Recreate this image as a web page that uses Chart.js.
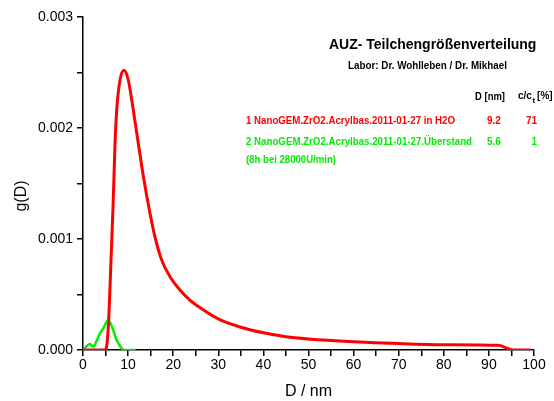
<!DOCTYPE html>
<html>
<head>
<meta charset="utf-8">
<script src="https://cdn.jsdelivr.net/npm/chart.js@4/dist/chart.umd.min.js"></script>
<style>
  html, body { margin: 0; padding: 0; background: #fff; }
  canvas { display: block; }
</style>
</head>
<body>
<canvas id="verteilung" width="554" height="401"></canvas>
<script>
// Messwerte: Durchmesser D [nm] und Verteilungsdichte g(D)
const probe1D = [0, 4.9, 5.3, 5.7, 6.2, 6.65, 6.87, 7.1, 7.47, 8.2, 9.1, 10.05, 11.16, 12.27, 13.4, 14.86,
                 15.96, 17.45, 19.3, 21.5, 23.7, 26, 30, 35, 40, 45, 50, 60, 70, 80, 92.1, 95.4, 99.4];
const probe1G = [0, 0, 0.00005, 0.00027, 0.0008, 0.00128, 0.00156, 0.00186, 0.00216, 0.00243, 0.00252,
                 0.00243, 0.00216, 0.00186, 0.00156, 0.00123, 0.00102, 0.00081, 0.00066, 0.00054,
                 0.00045, 0.00038, 0.00028, 0.000205, 0.000155, 0.00012, 0.0001, 0.000075, 0.000058,
                 0.000048, 0.000042, 0, 0];

const probe2D = [0, 1.55, 2.3, 3.0, 3.77, 4.5, 5.6, 6.7, 7.47, 8.58, 9.3, 11.7];
const probe2G = [0, 0.000054, 0.00003, 0.00008, 0.00015, 0.000195, 0.00027, 0.00018, 0.00009, 0.000015, 0, 0];

const xTicks = [0, 10, 20, 30, 40, 50, 60, 70, 80, 90, 100];
const yTicks = ['0.000', '0.001', '0.002', '0.003'];

// Legende
const probenNamen = [
  '1 NanoGEM.ZrO2.Acrylbas.2011-01-27 in H2O',
  '2 NanoGEM.ZrO2.Acrylbas.2011-01-27.\u00dcberstand'
];
const probenD = ['9.2', '5.6'];
const probenAnteil = ['71', '1'];
const probenFarben = ['#ff0000', '#00ee00'];

const schrift = "'Liberation Sans', Arial, sans-serif";

function punkte(xs, ys) {
  return xs.map((x, i) => ({ x: x, y: ys[i] }));
}

const beschriftung = {
  id: 'beschriftung',
  afterDraw(chart) {
    const ctx = chart.ctx;
    ctx.save();
    ctx.textBaseline = 'middle';
    ctx.fillStyle = '#000';

    // y-Achsentitel
    ctx.save();
    ctx.translate(22, 196);
    ctx.rotate(-Math.PI / 2);
    ctx.textAlign = 'center';
    ctx.font = '16px ' + schrift;
    ctx.fillText('g(D)', 0, 0);
    ctx.restore();

    ctx.textAlign = 'left';
    ctx.font = 'bold 14px ' + schrift;
    ctx.fillText('AUZ- Teilchengr\u00f6\u00dfenverteilung', 329, 45, 210);
    ctx.font = 'bold 10px ' + schrift;
    ctx.fillText('Labor: Dr. Wohlleben / Dr. Mikhael', 348, 66, 159);

    // Tabellenkopf
    ctx.font = 'bold 10px ' + schrift;
    ctx.fillText('D [nm]', 475, 97, 30);
    ctx.fillText('c/c', 518, 96);
    const wc = ctx.measureText('c/c').width;
    ctx.font = 'bold 8px ' + schrift;
    ctx.fillText('t', 518 + wc + 0.5, 101);
    const wt = ctx.measureText('t').width;
    ctx.font = 'bold 10px ' + schrift;
    ctx.fillText('[%]', 518 + wc + wt + 2.5, 96);

    // Proben
    const zeilen = [121, 142];
    const breiten = [209, 226];
    probenNamen.forEach((name, i) => {
      ctx.fillStyle = probenFarben[i];
      ctx.textAlign = 'left';
      ctx.fillText(name, 246, zeilen[i], breiten[i]);
      ctx.fillText(probenD[i], 487, zeilen[i]);
      ctx.textAlign = 'right';
      ctx.fillText(probenAnteil[i], 537, zeilen[i]);
    });
    ctx.textAlign = 'left';
    ctx.fillStyle = probenFarben[1];
    ctx.fillText('(8h bei 28000U/min)', 246, 160, 90);
    ctx.restore();
  }
};

new Chart(document.getElementById('verteilung'), {
  type: 'scatter',
  data: {
    datasets: [
      {
        data: punkte(probe1D, probe1G),
        showLine: true,
        borderColor: probenFarben[0],
        borderWidth: 3,
        pointRadius: 0,
        cubicInterpolationMode: 'monotone'
      },
      {
        data: punkte(probe2D, probe2G),
        showLine: true,
        borderColor: probenFarben[1],
        borderWidth: 2.5,
        pointRadius: 0,
        cubicInterpolationMode: 'monotone'
      }
    ]
  },
  options: {
    responsive: false,
    animation: false,
    layout: { padding: { top: 17, right: 20, left: 0, bottom: 0 } },
    plugins: {
      legend: { display: false },
      tooltip: { enabled: false }
    },
    scales: {
      x: {
        type: 'linear',
        min: 0,
        max: 100,
        afterFit(scale) { scale.height = 51; },
        border: { color: '#000', width: 1.5 },
        grid: { drawOnChartArea: false, drawTicks: true, tickLength: 6, color: '#000', lineWidth: 1.5 },
        ticks: {
          stepSize: 5,
          autoSkip: false,
          maxRotation: 0,
          padding: 1,
          color: '#000',
          font: { family: schrift, size: 14 },
          callback: (v) => xTicks.includes(v) ? String(v) : ''
        },
        title: {
          display: true,
          text: 'D / nm',
          color: '#000',
          font: { family: schrift, size: 16 },
          padding: { top: 0, bottom: 0 }
        }
      },
      y: {
        type: 'linear',
        min: 0,
        max: 0.003,
        afterFit(scale) { scale.width = 83; },
        border: { color: '#000', width: 1.5 },
        grid: { drawOnChartArea: false, drawTicks: true, tickLength: 6, color: '#000', lineWidth: 1.5 },
        ticks: {
          stepSize: 0.0005,
          autoSkip: false,
          padding: 4,
          color: '#000',
          font: { family: schrift, size: 14 },
          callback: (v) => {
            const k = Math.round(v * 1000);
            return Math.abs(v * 1000 - k) < 1e-6 ? yTicks[k] : '';
          }
        }
      }
    }
  },
  plugins: [beschriftung]
});
</script>
</body>
</html>
